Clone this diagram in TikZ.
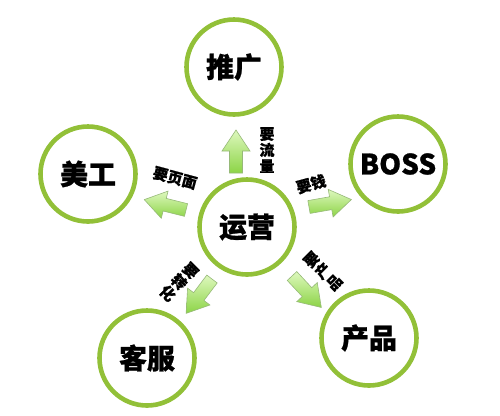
\documentclass[tikz,border=0pt]{standalone}
\usepackage{fontspec}
\newfontfamily\cjk{Noto Sans CJK SC}[BoldFeatures={FakeBold=0.9}]
\definecolor{ringgreen}{RGB}{146,192,56}
\definecolor{arrowlight}{RGB}{222,248,190}
\definecolor{arrowdark}{RGB}{140,212,70}
\definecolor{arrowedge}{RGB}{150,185,120}
\tikzset{
  hub/.style={circle, draw=ringgreen, line width=4.6bp, minimum size=95bp, inner sep=0pt,
    fill=white, font=\cjk\bfseries\fontsize{28}{30}\selectfont},
  arrowbody/.style={draw=arrowedge, line width=0.6bp, top color=arrowlight, bottom color=arrowdark},
  lab/.style={inner sep=0pt, align=center, font=\cjk\bfseries\fontsize{15}{16.2}\selectfont}
}
\begin{document}
\begin{tikzpicture}[x=1bp,y=-1bp]
\useasboundingbox (0,0) rectangle (500,415);
% circles
\node[hub] (yy) at (247,227) {运营};
\node[hub] (tg) at (234,67) {推广};
\node[hub] (mg) at (88,174) {美工};
\node[hub] (boss) at (398,164) {BOSS};
\node[hub] (kf) at (147,358) {客服};
\node[hub] (cp) at (369,338) {产品};
% arrow anchor points
\coordinate (aup) at (236,173);
\coordinate (aright) at (309,207);
\coordinate (aleft) at (186,210);
\coordinate (alowl) at (212,279);
\coordinate (alowr) at (292,276);
\path[arrowbody, shift={(aup)}, rotate=90] (0,-6.5) -- (22,-6.5) -- (22,-14) -- (43,0) -- (22,14) -- (22,6.5) -- (0,6.5) -- cycle;
\path[arrowbody, shift={(aright)}, rotate=10] (0,-6.5) -- (22,-6.5) -- (22,-14) -- (43,0) -- (22,14) -- (22,6.5) -- (0,6.5) -- cycle;
\path[arrowbody, shift={(aleft)}, rotate=166] (0,-6.5) -- (22,-6.5) -- (22,-14) -- (43,0) -- (22,14) -- (22,6.5) -- (0,6.5) -- cycle;
\path[arrowbody, shift={(alowl)}, rotate=-127] (0,-6.5) -- (22,-6.5) -- (22,-14) -- (43,0) -- (22,14) -- (22,6.5) -- (0,6.5) -- cycle;
\path[arrowbody, shift={(alowr)}, rotate=-47] (0,-6.5) -- (22,-6.5) -- (22,-14) -- (43,0) -- (22,14) -- (22,6.5) -- (0,6.5) -- cycle;
% labels
\node[lab] (l1) at (267,150) {要\\流\\量};
\node[lab, rotate=-15] (l2) at (175,178) {要页面};
\node[lab, rotate=15] (l3) at (311,184) {要钱};
\node[lab, rotate=45] (l4) at (323,271) {要\\产\\品};
\node[lab, rotate=-45] (l5) at (179,282) {要\\转\\化};
\end{tikzpicture}
\end{document}
